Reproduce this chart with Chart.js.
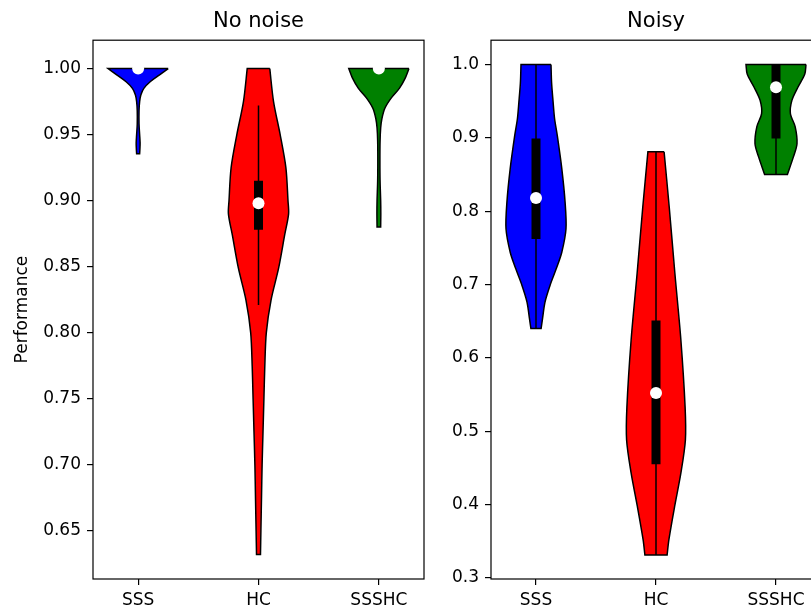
<!DOCTYPE html>
<html>
<head>
<meta charset="utf-8">
<title>Performance violins</title>
<script src="https://cdn.jsdelivr.net/npm/chart.js@4.4.1/dist/chart.umd.min.js"></script>
<style>
  html, body { margin: 0; padding: 0; background: #fff; overflow: hidden; }
  #wrap { position: relative; width: 811px; height: 610px; overflow: hidden; }
  canvas { position: absolute; top: 0; }
  #cleanChart { left: 0; }
  #noisyChart { left: 440px; }
</style>
</head>
<body>
<div id="wrap">
  <canvas id="cleanChart" width="460" height="610"></canvas>
  <canvas id="noisyChart" width="400" height="610"></canvas>
</div>
<script>
// methods on the x axis
const categories = ['SSS', 'HC', 'SSSHC'];
const colors = ['#0000ff', '#ff0000', '#008000'];

// y tick labels of each panel
const cleanTicks = [0.65, 0.70, 0.75, 0.80, 0.85, 0.90, 0.95, 1.00];
const noisyTicks = [0.3, 0.4, 0.5, 0.6, 0.7, 0.8, 0.9, 1.0];

// violin outlines: performance level and relative density (1 = widest)
const cleanSssLevels  = [1.000, 0.995, 0.990, 0.985, 0.980, 0.975, 0.968, 0.958, 0.950, 0.944, 0.9395, 0.9355];
const cleanSssDensity = [1.00, 0.70, 0.40, 0.19, 0.09, 0.05, 0.03, 0.03, 0.05, 0.065, 0.06, 0.05];

const cleanHcLevels  = [1.000, 0.975, 0.950, 0.925, 0.900, 0.890, 0.874, 0.849, 0.825, 0.800, 0.775, 0.750, 0.725, 0.700, 0.675, 0.650, 0.632];
const cleanHcDensity = [0.375, 0.50, 0.72, 0.91, 0.98, 1.00, 0.87, 0.67, 0.42, 0.26, 0.21, 0.18, 0.15, 0.12, 0.10, 0.08, 0.066];

const cleanSsshcLevels  = [1.000, 0.993, 0.985, 0.978, 0.970, 0.962, 0.955, 0.945, 0.930, 0.915, 0.900, 0.890, 0.880];
const cleanSsshcDensity = [1.00, 0.88, 0.68, 0.42, 0.20, 0.10, 0.06, 0.04, 0.035, 0.04, 0.06, 0.065, 0.06];

const noisySssLevels  = [1.000, 0.975, 0.949, 0.926, 0.903, 0.858, 0.812, 0.776, 0.744, 0.722, 0.699, 0.676, 0.654, 0.640];
const noisySssDensity = [0.50, 0.52, 0.57, 0.62, 0.71, 0.86, 0.97, 1.00, 0.86, 0.68, 0.47, 0.30, 0.22, 0.17];

const noisyHcLevels  = [0.881, 0.806, 0.715, 0.624, 0.533, 0.488, 0.443, 0.397, 0.352, 0.331];
const noisyHcDensity = [0.27, 0.44, 0.63, 0.83, 0.97, 0.98, 0.83, 0.62, 0.43, 0.37];

const noisySsshcLevels  = [1.000, 0.987, 0.969, 0.951, 0.933, 0.915, 0.892, 0.874, 0.850];
const noisySsshcDensity = [1.00, 0.96, 0.73, 0.53, 0.48, 0.64, 0.70, 0.58, 0.38];

// box summaries, one entry per category
const cleanMedian = [1.000, 0.898, 1.000];
const cleanQ1     = [1.000, 0.878, 1.000];
const cleanQ3     = [1.000, 0.915, 1.000];
const cleanLow    = [1.000, 0.821, 1.000];
const cleanHigh   = [1.000, 0.972, 1.000];

const noisyMedian = [0.818, 0.552, 0.969];
const noisyQ1     = [0.762, 0.455, 0.899];
const noisyQ3     = [0.899, 0.651, 1.000];
const noisyLow    = [0.640, 0.331, 0.850];
const noisyHigh   = [1.000, 0.881, 1.000];

const HALF_WIDTH = 0.25;
const FONT = 'DejaVu Sans';

Chart.defaults.color = '#000';
Chart.defaults.font.family = FONT;

// closed outline: right edge top->bottom, left edge bottom->top.
// corner points are doubled so the smoothing keeps the flat ends square
function violinPoints(levels, density, pos) {
    const right = levels.map((y, i) => ({ x: pos + density[i] * HALF_WIDTH, y: y }));
    const left = levels.map((y, i) => ({ x: pos - density[i] * HALF_WIDTH, y: y })).reverse();
    const r0 = right[0], rn = right[right.length - 1];
    const ln = left[0], l0 = left[left.length - 1];
    return [r0, ...right, { ...rn }, { ...ln }, ...left, { ...l0 }, { ...r0 }];
}

function buildDatasets(outlines, low, high, q1, q3, median) {
    const sets = [];
    outlines.forEach((o, i) => {
        const pos = i + 1;
        sets.push({
            data: violinPoints(o[0], o[1], pos),
            backgroundColor: colors[i],
            borderColor: '#000',
            borderWidth: 1.5,
            fill: 'shape',
            tension: 0.3,
            pointRadius: 0,
            order: 3
        });
        sets.push({
            data: [{ x: pos, y: low[i] }, { x: pos, y: high[i] }],
            borderColor: '#000',
            borderWidth: 1.5,
            fill: false,
            pointRadius: 0,
            order: 2
        });
        sets.push({
            data: [{ x: pos, y: q1[i] }, { x: pos, y: q3[i] }],
            borderColor: '#000',
            borderWidth: 9,
            borderCapStyle: 'butt',
            fill: false,
            pointRadius: 0,
            order: 1
        });
    });
    sets.push({
        data: median.map((m, i) => ({ x: i + 1, y: m })),
        showLine: false,
        pointRadius: 6,
        pointBackgroundColor: '#fff',
        pointBorderWidth: 0,
        order: 0
    });
    return sets;
}

// full box around the plotting area
const framePlugin = {
    id: 'frame',
    afterDatasetsDraw(chart) {
        const { ctx, chartArea: a } = chart;
        ctx.save();
        ctx.strokeStyle = '#000';
        ctx.lineWidth = 1.2;
        ctx.strokeRect(a.left, a.top, a.right - a.left, a.bottom - a.top);
        ctx.restore();
    }
};

function makeChart(canvasId, title, datasets, ticks, yMin, yMax, digits, yWidth, rightPad, yTitle) {
    const ctx = document.getElementById(canvasId).getContext('2d');
    return new Chart(ctx, {
        type: 'line',
        data: { datasets: datasets },
        plugins: [framePlugin],
        options: {
            responsive: false,
            animation: false,
            events: [],
            layout: { padding: { left: 0, right: rightPad, top: 0, bottom: 0 } },
            plugins: {
                legend: { display: false },
                tooltip: { enabled: false },
                title: {
                    display: true,
                    text: title,
                    fullSize: false,
                    font: { size: 21, weight: 'normal', family: FONT },
                    padding: { top: 9, bottom: 6 }
                }
            },
            scales: {
                x: {
                    type: 'linear',
                    min: 0.625,
                    max: 3.375,
                    afterBuildTicks: s => { s.ticks = categories.map((c, i) => ({ value: i + 1 })); },
                    afterFit: s => { s.height = 31; },
                    ticks: {
                        autoSkip: false,
                        maxRotation: 0,
                        padding: 5,
                        font: { size: 17 },
                        callback: (v, i) => categories[i]
                    },
                    grid: { display: true, drawOnChartArea: false, drawTicks: true, tickLength: 6, color: '#000', lineWidth: 1.2 },
                    border: { display: false }
                },
                y: {
                    type: 'linear',
                    min: yMin,
                    max: yMax,
                    afterBuildTicks: s => { s.ticks = ticks.map(v => ({ value: v })); },
                    afterFit: s => { s.width = yWidth; },
                    ticks: {
                        padding: 6,
                        font: { size: 17 },
                        callback: v => Number(v).toFixed(digits)
                    },
                    title: {
                        display: !!yTitle,
                        text: yTitle || '',
                        font: { size: 17 },
                        padding: { top: 12, bottom: 4 }
                    },
                    grid: { display: true, drawOnChartArea: false, drawTicks: true, tickLength: 6, color: '#000', lineWidth: 1.2 },
                    border: { display: false }
                }
            }
        }
    });
}

makeChart('cleanChart', 'No noise',
    buildDatasets(
        [[cleanSssLevels, cleanSssDensity], [cleanHcLevels, cleanHcDensity], [cleanSsshcLevels, cleanSsshcDensity]],
        cleanLow, cleanHigh, cleanQ1, cleanQ3, cleanMedian),
    cleanTicks, 0.6134, 1.0215, 2, 93, 36, 'Performance');

makeChart('noisyChart', 'Noisy',
    buildDatasets(
        [[noisySssLevels, noisySssDensity], [noisyHcLevels, noisyHcDensity], [noisySsshcLevels, noisySsshcDensity]],
        noisyLow, noisyHigh, noisyQ1, noisyQ3, noisyMedian),
    noisyTicks, 0.2984, 1.0331, 1, 51, 19, null);
</script>
</body>
</html>
